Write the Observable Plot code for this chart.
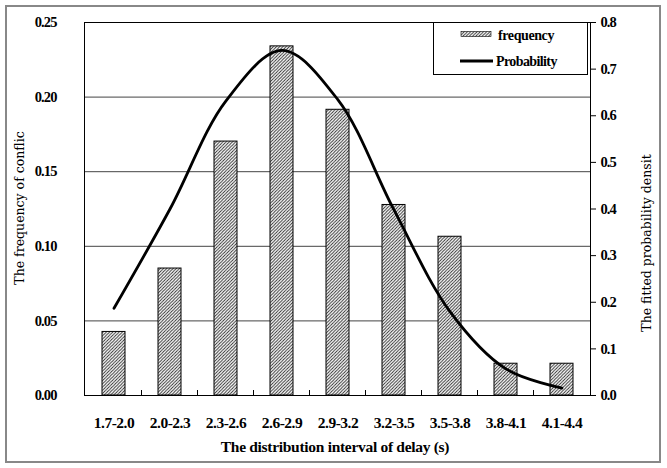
<!DOCTYPE html>
<html>
<head>
<meta charset="utf-8">
<script src="https://cdn.jsdelivr.net/npm/d3@7"></script>
<script src="https://cdn.jsdelivr.net/npm/@observablehq/plot@0.6"></script>
<style>
  html, body { margin: 0; padding: 0; background: #fff; }
  #chart { position: relative; width: 667px; height: 468px; }
  #border { position: absolute; left: 5px; top: 5px; width: 656px; height: 458px; border: 2px solid #888; box-sizing: border-box; pointer-events: none; }
</style>
</head>
<body>
<div id="chart"><div id="border"></div></div>
<script>
const categories = ["1.7-2.0","2.0-2.3","2.3-2.6","2.6-2.9","2.9-3.2","3.2-3.5","3.5-3.8","3.8-4.1","4.1-4.4"];
const frequency = [0.0426, 0.0851, 0.1702, 0.2340, 0.1915, 0.1277, 0.1064, 0.0213, 0.0213];
const probability = [0.187, 0.400, 0.632, 0.740, 0.634, 0.398, 0.180, 0.057, 0.016];
const leftTicks = [0, 0.05, 0.10, 0.15, 0.20, 0.25];
const rightTicks = [0, 0.1, 0.2, 0.3, 0.4, 0.5, 0.6, 0.7, 0.8];
const gridTicks = [0.05, 0.10, 0.15, 0.20];
const leftMax = 0.25, rightMax = 0.8;
const xTitle = "The distribution interval of delay (s)";
const yLeftTitle = "The frequency of conflic";
const yRightTitle = "The fitted probability densit";
const legendLabels = ["frequency", "Probability"];

const rows = categories.map((c, i) => ({c, f: frequency[i], p: probability[i]}));
const toLeft = v => v * leftMax / rightMax;

const serif = "'Liberation Serif', 'Times New Roman', serif";
const sideFont = "'DejaVu Serif', serif";

const boundaryTicks = (index, scales) => {
  const x = scales.x, y = scales.y;
  const g = d3.create("svg:g");
  const step = x.step ? x.step() : 56;
  const bw = x.bandwidth ? x.bandwidth() : 23;
  categories.slice(1).forEach(c => {
    const px = x(c) + bw / 2 - step / 2;
    g.append("line").attr("x1", px).attr("x2", px)
      .attr("y1", y(0)).attr("y2", y(0) - 5)
      .attr("stroke", "#000");
  });
  return g.node();
};

const plot = Plot.plot({
  width: 667,
  height: 468,
  marginLeft: 84,
  marginRight: 77,
  marginTop: 22,
  marginBottom: 73,
  style: {fontFamily: serif, background: "transparent", overflow: "visible"},
  x: {type: "band", domain: categories, paddingInner: 0.59, paddingOuter: 0.295, label: null},
  y: {domain: [0, leftMax], label: null},
  marks: [
    Plot.ruleY(gridTicks, {stroke: "#444", strokeWidth: 1}),
    Plot.barY(rows, {x: "c", y: "f", fill: "url(#hatch)", stroke: "#000", strokeWidth: 1}),
    Plot.line(rows, {x: "c", y: d => toLeft(d.p), stroke: "#000", strokeWidth: 2.8, curve: "catmull-rom"}),
    Plot.axisY({ticks: leftTicks, tickFormat: d => d.toFixed(2), tickSize: 0, tickPadding: 28, label: null}),
    Plot.axisY({anchor: "right", ticks: rightTicks.map(toLeft), tickFormat: d => (d * rightMax / leftMax).toFixed(1),
      tickSize: 5, tickPadding: 5, label: null}),
    Plot.axisX({tickSize: 0, tickPadding: 21, label: null}),
    boundaryTicks,
    Plot.frame({stroke: "#000", strokeWidth: 1})
  ]
});

const svg = d3.select(plot);
svg.selectAll("g[aria-label='y-axis tick label'] text")
  .style("font-size", "14.5px").style("font-weight", "bold").style("letter-spacing", "-0.9px").attr("fill", "#000");
svg.selectAll("g[aria-label='x-axis tick label'] text")
  .style("font-size", "15.5px").style("font-weight", "bold").style("letter-spacing", "-0.5px").attr("fill", "#000");

const defs = svg.insert("defs", ":first-child");
const pat = defs.append("pattern").attr("id", "hatch").attr("patternUnits", "userSpaceOnUse")
  .attr("width", 3.2).attr("height", 3.2);
pat.append("rect").attr("width", 3.2).attr("height", 3.2).attr("fill", "#fff");
pat.append("path").attr("d", "M-0.8,0.8 L0.8,-0.8 M0,3.2 L3.2,0 M2.4,4 L4,2.4").attr("stroke", "#222").attr("stroke-width", 0.9);

// axis titles
svg.append("text").attr("transform", "translate(20,208) rotate(-90)")
  .attr("text-anchor", "middle").attr("dy", "0.35em")
  .style("font-family", sideFont).style("font-size", "12.5px").attr("fill", "#000").text(yLeftTitle);
svg.append("text").attr("transform", "translate(647,243) rotate(-90)")
  .attr("text-anchor", "middle").attr("dy", "0.35em")
  .style("font-family", sideFont).style("font-size", "12.5px").attr("fill", "#000").text(yRightTitle);
svg.append("text").attr("x", 335).attr("y", 447).attr("dy", "0.35em")
  .attr("text-anchor", "middle").style("font-family", serif).style("font-weight", "bold")
  .style("font-size", "15.5px").style("letter-spacing", "-0.3px").attr("fill", "#000").text(xTitle);

// legend
const lg = svg.append("g").style("font-family", serif).style("font-weight", "bold").style("font-size", "14px").attr("text-anchor", "start");
lg.append("rect").attr("x", 433.5).attr("y", 22.5).attr("width", 154).attr("height", 52)
  .attr("fill", "#fff").attr("stroke", "#000");
lg.append("rect").attr("x", 461).attr("y", 31.5).attr("width", 30).attr("height", 5)
  .attr("fill", "url(#hatch)").attr("stroke", "#000").attr("stroke-width", 0.6);
lg.append("text").attr("x", 498).attr("y", 35).attr("dy", "0.35em").style("letter-spacing", "-0.4px").text(legendLabels[0]);
lg.append("line").attr("x1", 460).attr("x2", 493).attr("y1", 61).attr("y2", 61)
  .attr("stroke", "#000").attr("stroke-width", 2.8);
lg.append("text").attr("x", 496).attr("y", 61).attr("dy", "0.35em").style("letter-spacing", "-0.6px").text(legendLabels[1]);

document.getElementById("chart").prepend(plot);
</script>
</body>
</html>
